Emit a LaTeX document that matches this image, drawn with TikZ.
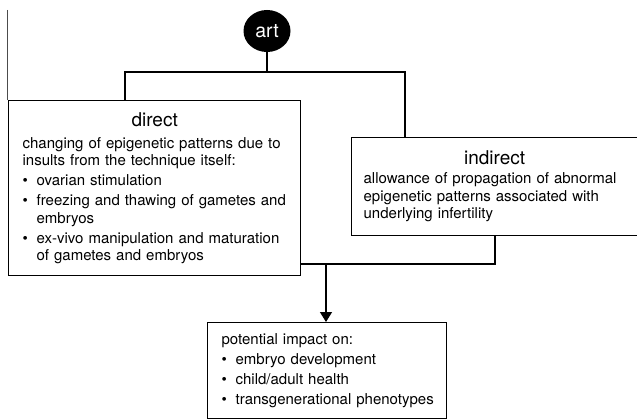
\documentclass[tikz,border=0pt]{standalone}
\usepackage{fontspec}
\setmainfont{TeX Gyre Heros}
\usetikzlibrary{shapes.geometric,arrows.meta,positioning,calc}

\newcommand{\bitem}[1]{\par\hangindent=14pt\hangafter=1\noindent\makebox[14pt][l]{\textbullet}#1}
\newcommand{\boxtitle}[2][2pt]{\makebox[\linewidth]{\fontsize{19}{22}\selectfont #2}\par\vspace{#1}}

\begin{document}
\begin{tikzpicture}[
  x=1pt, y=-1pt,
  every node/.style={font=\fontsize{15}{17.5}\selectfont},
  box/.style={rectangle, draw, line width=1.3pt, fill=white, anchor=north west,
    inner xsep=14pt, inner ysep=4pt,
    execute at begin node={\setlength{\parskip}{2.5pt}\setlength{\parindent}{0pt}%
      \raggedright\rightskip=0pt plus 1fil minus 12pt}},
  wire/.style={line width=1.3pt},
  arr/.style={-{Triangle[length=10pt,width=12pt]}, line width=1.3pt}
]
  \useasboundingbox (0,0) rectangle (637,420);
  \draw[line width=0.6pt, black!70] (7,10) -- (7,100);

  \node[ellipse, fill=black, text=white, minimum width=47pt, minimum height=42pt,
    inner sep=0pt, font=\fontsize{19.5}{22}\selectfont] (art) at (267,31) {art};

  \node[box, text width=264pt, minimum height=175pt] (direct) at (8,100) {%
    \boxtitle{direct}
    changing of epigenetic patterns due to\newline insults from the technique itself:
    \bitem{ovarian stimulation}
    \bitem{freezing and thawing of gametes and\newline embryos}
    \bitem{ex-vivo manipulation and maturation\newline of gametes and embryos}\par};

  \node[box, inner xsep=12pt, text width=262pt, minimum height=98pt] (indirect) at (351,137) {%
    \boxtitle[-1pt]{indirect}
    allowance of propagation of abnormal\newline epigenetic patterns associated with\newline underlying infertility\par};

  \node[box, inner xsep=14pt, text width=211pt, minimum height=96pt] (impact) at (207,322) {%
    potential impact on:
    \bitem{embryo development}
    \bitem{child/adult health}
    \bitem{transgenerational phenotypes}\par};

  \coordinate (split) at (267,72);
  \coordinate (dtop) at (125,100);
  \coordinate (itop) at (405,137);
  \coordinate (join) at (495,264);
  \coordinate (down) at (326,264);

  \draw[wire] (art) -- (split);
  \draw[wire] (dtop) -- (dtop |- split) -- (itop |- split) -- (itop);
  \draw[wire] (direct.east |- join) -- (join) -- (indirect.south -| join);
  \draw[arr] (down) -- (impact.north -| down);
\end{tikzpicture}
\end{document}
